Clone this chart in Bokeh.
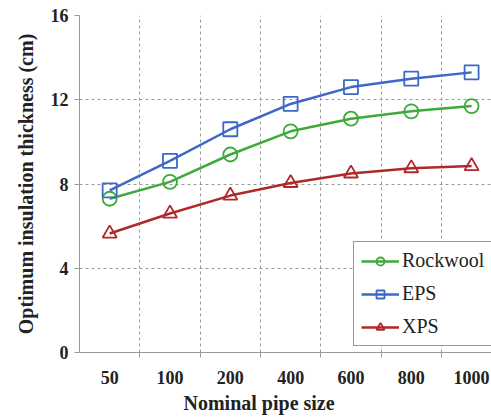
from bokeh.plotting import figure
from bokeh.models import FixedTicker, Legend, LegendItem, Title, Range1d
from bokeh.embed import file_html
from bokeh.resources import INLINE

categories = ["50", "100", "200", "400", "600", "800", "1000"]
rockwool = [7.3, 8.1, 9.4, 10.5, 11.1, 11.45, 11.7]
eps = [7.7, 9.1, 10.6, 11.8, 12.6, 13.0, 13.3]
xps = [5.65, 6.6, 7.45, 8.05, 8.5, 8.75, 8.85]
y_ticks = [0, 4, 8, 12, 16]

FONT = "Liberation Serif"
GREEN = "#3DAA3A"
BLUE = "#3C68C8"
RED = "#B0282A"

xs = list(range(len(categories)))

p = figure(width=491, height=420, output_backend="svg", toolbar_location=None,
           x_range=Range1d(-0.5, 6.33), y_range=Range1d(0, 16),
           min_border_left=79, min_border_right=0, min_border_top=15, min_border_bottom=68)
p.outline_line_color = None
p.background_fill_color = "white"

# axes
p.xaxis.ticker = FixedTicker(ticks=xs, minor_ticks=[i + 0.5 for i in xs[:-1]])
p.xaxis.major_label_overrides = {i: c for i, c in zip(xs, categories)}
p.xaxis.major_tick_line_color = None
p.xaxis.minor_tick_line_color = "#999999"
p.xaxis.minor_tick_out = 5
p.xaxis.minor_tick_in = 0
p.xaxis.axis_line_color = "#999999"
p.xaxis.major_label_standoff = 12
p.yaxis.ticker = FixedTicker(ticks=y_ticks)
p.yaxis.minor_tick_line_color = None
p.yaxis.major_tick_line_color = "#999999"
p.yaxis.major_tick_out = 5
p.yaxis.major_tick_in = 0
p.yaxis.axis_line_color = "#999999"
p.yaxis.major_label_standoff = 6
for ax in (p.xaxis, p.yaxis):
    ax.major_label_text_font = FONT
    ax.major_label_text_font_style = "bold"
    ax.major_label_text_font_size = "18px"
    ax.major_label_text_color = "#222222"
p.yaxis.axis_label = "Optimum insulation thickness (cm)"
p.yaxis.axis_label_text_font = FONT
p.yaxis.axis_label_text_font_style = "bold"
p.yaxis.axis_label_text_font_size = "20px"
p.yaxis.axis_label_text_color = "#222222"
p.yaxis.axis_label_standoff = 11

p.add_layout(Title(text="Nominal pipe size", align="left", offset=104,
                   text_font=FONT, text_font_style="bold", text_font_size="20px",
                   text_color="#222222", standoff=7), "below")

# grid
p.xgrid.grid_line_color = None
p.xgrid.minor_grid_line_color = "#999999"
p.xgrid.minor_grid_line_dash = "3 3"
p.ygrid.grid_line_color = "#999999"
p.ygrid.grid_line_dash = "3 3"

items = []
for name, vals, color, marker in [("Rockwool", rockwool, GREEN, "circle"),
                                  ("EPS", eps, BLUE, "square"),
                                  ("XPS", xps, RED, "triangle")]:
    l = p.line(xs, vals, line_color=color, line_width=2.5)
    s = p.scatter(xs, vals, marker=marker, size=14, line_color=color, line_width=1.8,
                  fill_color=None)
    items.append(LegendItem(label=name, renderers=[l, s]))

legend = Legend(items=items, location=(274, 6), glyph_width=38, glyph_height=20,
                label_height=20, label_standoff=3, spacing=10, padding=7, margin=0,
                label_text_font=FONT, label_text_font_size="20px", label_text_color="#222222",
                border_line_color="#333333", border_line_width=1, background_fill_alpha=1)
p.add_layout(legend)

open("out.html", "w").write(file_html(p, INLINE))
